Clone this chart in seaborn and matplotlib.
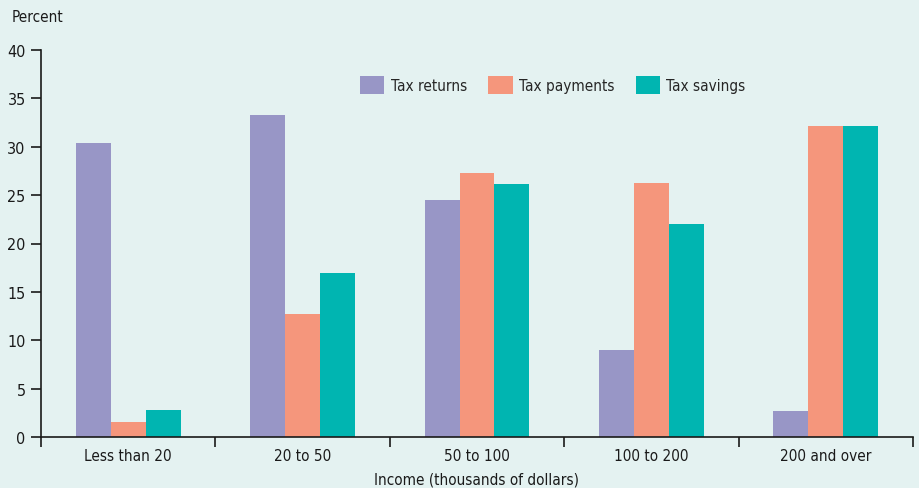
import matplotlib
matplotlib.use("Agg")
import matplotlib.pyplot as plt
import seaborn as sns
import pandas as pd
import numpy as np

categories = ["Less than 20", "20 to 50", "50 to 100", "100 to 200", "200 and over"]
tax_returns = [30.4, 33.3, 24.5, 9.0, 2.7]
tax_payments = [1.6, 12.7, 27.3, 26.3, 32.1]
tax_savings = [2.8, 17.0, 26.1, 22.0, 32.1]
series_names = ["Tax returns", "Tax payments", "Tax savings"]
y_ticks = [0, 5, 10, 15, 20, 25, 30, 35, 40]

colors = ["#9896c6", "#f5967c", "#00b5b1"]
bg = "#e4f2f1"

sns.set_theme(style="white")
plt.rcParams["font.family"] = ["DejaVu Sans"]
plt.rcParams["font.stretch"] = "condensed"

df = pd.DataFrame({
    "Income": categories * 3,
    "Series": [s for s in series_names for _ in categories],
    "Percent": tax_returns + tax_payments + tax_savings,
})

fig = plt.figure(figsize=(9.2, 4.89), dpi=100, facecolor=bg)
ax = fig.add_axes([41 / 920, 51 / 489, 872 / 920, 387 / 489])
ax.set_facecolor(bg)

sns.barplot(data=df, x="Income", y="Percent", hue="Series", order=categories,
            hue_order=series_names, palette=colors, width=0.6, saturation=1,
            linewidth=0, ax=ax)

ax.set_xlim(-0.5, len(categories) - 0.5)
ax.set_ylim(0, 40)
ax.set_yticks(y_ticks)

for s in ["top", "right"]:
    ax.spines[s].set_visible(False)
for s in ["left", "bottom"]:
    ax.spines[s].set_color("#1a1a1a")
    ax.spines[s].set_linewidth(1.2)

fs = 11
ax.set_xticks(range(len(categories)))
ax.set_xticklabels(categories)
ax.set_xticks(np.arange(-0.5, len(categories), 1.0), minor=True)
ax.tick_params(axis="x", which="major", length=0, pad=8, labelsize=fs, colors="#1a1a1a")
ax.tick_params(axis="x", which="minor", length=7, width=1.2, direction="out", color="#1a1a1a", bottom=True)
ax.tick_params(axis="y", which="major", length=7, width=1.2, direction="out", left=True,
               labelsize=fs + 0.5, colors="#1a1a1a", pad=4)

ax.set_xlabel("")
ax.set_ylabel("")
fig.text(477 / 920, 1 - 480 / 489, "Income (thousands of dollars)", fontsize=fs,
         color="#1a1a1a", va="center", ha="center")
fig.text(12 / 920, 1 - 18 / 489, "Percent", fontsize=fs, color="#1a1a1a", va="center", ha="left")

handles, labels = ax.get_legend_handles_labels()
ax.legend(handles, labels, loc="center left", bbox_to_anchor=(319 / 872, 0.91), ncol=3,
          frameon=False, fontsize=fs, handlelength=1.6, handleheight=1.4,
          handletextpad=0.4, columnspacing=1.4, borderaxespad=0, borderpad=0)

fig.savefig("out.png", dpi=100, facecolor=bg)
